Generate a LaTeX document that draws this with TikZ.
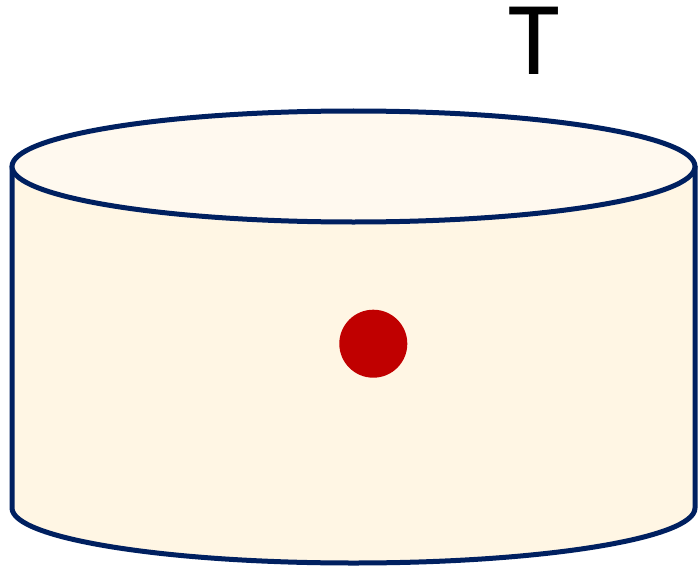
\documentclass[tikz,border=0pt]{standalone}
\usepackage{fontspec}
\newfontfamily\labelfont{Carlito}
\definecolor{canline}{RGB}{0,32,96}
\definecolor{canbody}{RGB}{255,246,228}
\definecolor{cantop}{RGB}{255,249,239}
\definecolor{dotred}{RGB}{192,0,0}
\tikzset{every picture/.style={line width=5pt}}
\begin{document}
\begin{tikzpicture}[x=1pt,y=1pt,yscale=-1,xscale=1]
\useasboundingbox (0,0) rectangle (698,567);

%Shape: Can body
\draw [color=canline, fill=canbody, line width=5pt, line join=round]  (12,166.5) -- (12,508) arc[start angle=180, end angle=0, x radius=341.5, y radius=55] -- (695,166.5) -- cycle ;
%Shape: Can top
\draw [color=canline, fill=cantop, line width=5pt]  (353.5,166.5) ellipse [x radius=341.5, y radius=55.5] ;
%Shape: Circle
\fill [color=dotred]  (373.3,343.7) circle [radius=34] ;
\coordinate (dot) at (373.3,343.7);

% Text Node
\node (T) [anchor=base, inner sep=0pt, text height=68pt, text depth=0pt, font=\labelfont\fontsize{105}{105}\selectfont] at (534,75) {T};

\end{tikzpicture}
\end{document}
